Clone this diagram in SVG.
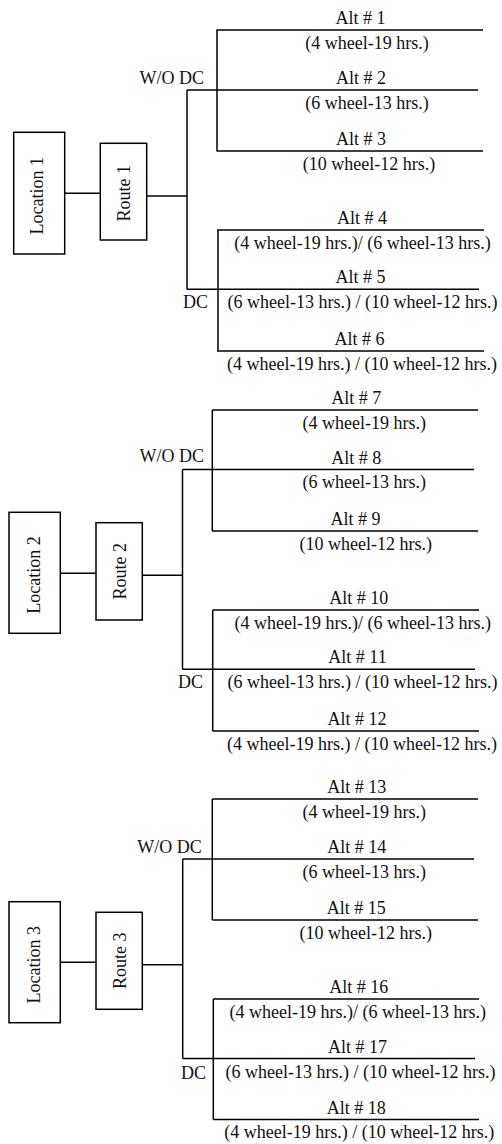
<svg xmlns="http://www.w3.org/2000/svg" width="502" height="1144" viewBox="0 0 502 1144">
<style>
text{font-family:"Liberation Serif",Tinos,"Times New Roman",Times,"DejaVu Serif",serif;font-size:18px;fill:#111}
.m{text-anchor:middle}
.e{text-anchor:end}
.box{fill:#fff;stroke:#000;stroke-width:1.5}
.c line{stroke:#000;stroke-width:1.5;fill:none}
</style>
<rect width="502" height="1144" fill="#fff"/>
<g class="c" id="connectors">
<line x1="64.7" y1="193.3" x2="100.3" y2="193.3"/>
<line x1="146.7" y1="196" x2="187" y2="196"/>
<line x1="187" y1="90" x2="187" y2="289.3"/>
<line x1="217" y1="30" x2="217" y2="151"/>
<line x1="218" y1="230" x2="218" y2="351"/>
<line x1="216.5" y1="30" x2="483" y2="30"/>
<line x1="187" y1="90" x2="478" y2="90"/>
<line x1="216.5" y1="151" x2="483" y2="151"/>
<line x1="217" y1="230" x2="484" y2="230"/>
<line x1="187" y1="289.3" x2="479" y2="289.3"/>
<line x1="217" y1="351" x2="484" y2="351"/>
<line x1="60.3" y1="573.3" x2="96" y2="573.3"/>
<line x1="142.3" y1="575.3" x2="182.5" y2="575.3"/>
<line x1="182.5" y1="469.5" x2="182.5" y2="669.3"/>
<line x1="212.3" y1="410" x2="212.3" y2="531"/>
<line x1="212.7" y1="610" x2="212.7" y2="731"/>
<line x1="212" y1="410" x2="478" y2="410"/>
<line x1="182.5" y1="469.5" x2="474" y2="469.5"/>
<line x1="212" y1="531" x2="478" y2="531"/>
<line x1="212.7" y1="610" x2="479" y2="610"/>
<line x1="182.5" y1="669.3" x2="475" y2="669.3"/>
<line x1="212.7" y1="731" x2="479" y2="731"/>
<line x1="60.3" y1="962.3" x2="96" y2="962.3"/>
<line x1="142.3" y1="964.7" x2="182.7" y2="964.7"/>
<line x1="182.7" y1="859" x2="182.7" y2="1058.5"/>
<line x1="212.3" y1="799" x2="212.3" y2="920"/>
<line x1="213.3" y1="999" x2="213.3" y2="1119.5"/>
<line x1="212.3" y1="799" x2="478" y2="799"/>
<line x1="182.7" y1="859" x2="474" y2="859"/>
<line x1="212.3" y1="920" x2="478" y2="920"/>
<line x1="213.3" y1="999" x2="479" y2="999"/>
<line x1="182.7" y1="1058.5" x2="475" y2="1058.5"/>
<line x1="213.3" y1="1119.5" x2="479" y2="1119.5"/>
</g>
<g id="location1"><rect class="box" x="13.7" y="132.3" width="51" height="121.7"/><text class="m" transform="translate(43.3,195.8) rotate(-90)">Location 1</text></g>
<g id="route1"><rect class="box" x="100.3" y="143.3" width="46.4" height="96.7"/><text class="m" transform="translate(130,193.3) rotate(-90)">Route 1</text></g>
<g id="location2"><rect class="box" x="9" y="512.3" width="51.3" height="121"/><text class="m" transform="translate(40,575) rotate(-90)">Location 2</text></g>
<g id="route2"><rect class="box" x="96" y="522.7" width="46.3" height="97.3"/><text class="m" transform="translate(126,571.3) rotate(-90)">Route 2</text></g>
<g id="location3"><rect class="box" x="9" y="901.7" width="51.3" height="121"/><text class="m" transform="translate(40,964.7) rotate(-90)">Location 3</text></g>
<g id="route3"><rect class="box" x="96" y="912.3" width="46.3" height="97"/><text class="m" transform="translate(126,960.8) rotate(-90)">Route 3</text></g>
<g id="labels1"><text class="e" x="204" y="84">W/O DC</text><text x="183" y="308">DC</text></g>
<g id="labels2"><text class="e" x="204" y="462">W/O DC</text><text x="178" y="688">DC</text></g>
<g id="labels3"><text class="e" x="201.7" y="852.5">W/O DC</text><text x="181" y="1079">DC</text></g>
<g id="alt1"><text class="m" x="360.5" y="24">Alt # 1</text><text class="m" x="367" y="48.5">(4 wheel-19 hrs.)</text></g>
<g id="alt2"><text class="m" x="361" y="84">Alt # 2</text><text class="m" x="367" y="108.5">(6 wheel-13 hrs.)</text></g>
<g id="alt3"><text class="m" x="361" y="145">Alt # 3</text><text class="m" x="369" y="169.5">(10 wheel-12 hrs.)</text></g>
<g id="alt4"><text class="m" x="362" y="224">Alt # 4</text><text class="m" x="362.5" y="248.5">(4 wheel-19 hrs.)/ (6 wheel-13 hrs.)</text></g>
<g id="alt5"><text class="m" x="360.5" y="283">Alt # 5</text><text class="m" x="362.5" y="308">(6 wheel-13 hrs.) / (10 wheel-12 hrs.)</text></g>
<g id="alt6"><text class="m" x="359.5" y="345">Alt # 6</text><text class="m" x="362" y="369.5">(4 wheel-19 hrs.) / (10 wheel-12 hrs.)</text></g>
<g id="alt7"><text class="m" x="356.3" y="404">Alt # 7</text><text class="m" x="364.3" y="428.5">(4 wheel-19 hrs.)</text></g>
<g id="alt8"><text class="m" x="356.3" y="463.5">Alt # 8</text><text class="m" x="364.3" y="488">(6 wheel-13 hrs.)</text></g>
<g id="alt9"><text class="m" x="355.5" y="525">Alt # 9</text><text class="m" x="365.8" y="549.5">(10 wheel-12 hrs.)</text></g>
<g id="alt10"><text class="m" x="358.8" y="604">Alt # 10</text><text class="m" x="362.8" y="628.5">(4 wheel-19 hrs.)/ (6 wheel-13 hrs.)</text></g>
<g id="alt11"><text class="m" x="357.5" y="663.3">Alt # 11</text><text class="m" x="362.5" y="688">(6 wheel-13 hrs.) / (10 wheel-12 hrs.)</text></g>
<g id="alt12"><text class="m" x="357" y="725">Alt # 12</text><text class="m" x="362" y="749.5">(4 wheel-19 hrs.) / (10 wheel-12 hrs.)</text></g>
<g id="alt13"><text class="m" x="356.7" y="793">Alt # 13</text><text class="m" x="364.3" y="817.5">(4 wheel-19 hrs.)</text></g>
<g id="alt14"><text class="m" x="356.7" y="853">Alt # 14</text><text class="m" x="364.3" y="877.5">(6 wheel-13 hrs.)</text></g>
<g id="alt15"><text class="m" x="356.3" y="914">Alt # 15</text><text class="m" x="365.8" y="938.5">(10 wheel-12 hrs.)</text></g>
<g id="alt16"><text class="m" x="358.8" y="993">Alt # 16</text><text class="m" x="357.7" y="1018">(4 wheel-19 hrs.)/ (6 wheel-13 hrs.)</text></g>
<g id="alt17"><text class="m" x="357.5" y="1052.5">Alt # 17</text><text class="m" x="360.5" y="1078">(6 wheel-13 hrs.) / (10 wheel-12 hrs.)</text></g>
<g id="alt18"><text class="m" x="356.3" y="1113.5">Alt # 18</text><text class="m" x="359.2" y="1138">(4 wheel-19 hrs.) / (10 wheel-12 hrs.)</text></g>
</svg>
